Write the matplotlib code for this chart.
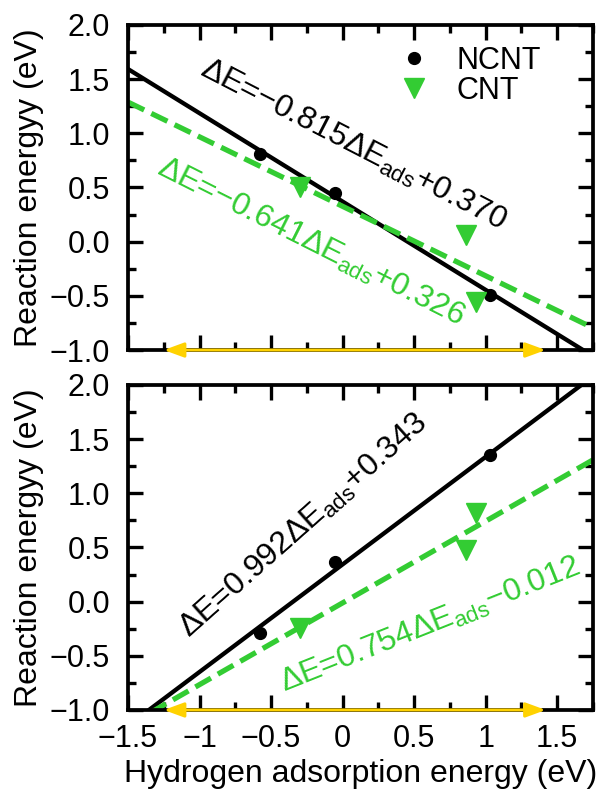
import numpy as np
import matplotlib
matplotlib.use('Agg')
import matplotlib.pyplot as plt
from matplotlib.ticker import MultipleLocator, FixedLocator, FixedFormatter

plt.rcParams['font.family'] = ['Liberation Sans', 'DejaVu Sans']
plt.rcParams['mathtext.fontset'] = 'custom'
plt.rcParams['mathtext.rm'] = 'Liberation Sans'
plt.rcParams['mathtext.it'] = 'Liberation Sans:italic'
plt.rcParams['axes.unicode_minus'] = True

# data
ncnt_x = [-0.575, -0.05, 1.03]
cnt_x = [-0.30, 0.86, 0.935]
# top panel
ncnt_top = [0.81, 0.45, -0.49]
cnt_top = [0.50, 0.06, -0.555]
fit_top_ncnt = (-0.815, 0.370)
fit_top_cnt = (-0.641, 0.326)
# bottom panel
ncnt_bot = [-0.29, 0.366, 1.354]
cnt_bot = [-0.244, 0.48, 0.82]
fit_bot_ncnt = (0.992, 0.343)
fit_bot_cnt = (0.754, -0.012)

xticks = [-1.5, -1, -0.5, 0, 0.5, 1, 1.5]
xticklabels = ['\u22121.5', '\u22121', '\u22120.5', '0', '0.5', '1', '1.5']
yticks = [-1.0, -0.5, 0.0, 0.5, 1.0, 1.5, 2.0]
yticklabels = ['\u22121.0', '\u22120.5', '0.0', '0.5', '1.0', '1.5', '2.0']

green = '#33cc33'
gold = '#ffd200'
fs = 22
fs_ann = 23

fig = plt.figure(figsize=(6.03, 7.93), dpi=100)
ax1 = fig.add_axes([0.2123, 0.5586, 0.771, 0.41])
ax2 = fig.add_axes([0.2123, 0.1047, 0.771, 0.41])

xx = np.linspace(-1.5, 1.75, 200)

def setup(ax):
    ax.set_xlim(-1.5, 1.75)
    ax.set_ylim(-1.0, 2.0)
    ax.xaxis.set_major_locator(FixedLocator(xticks))
    ax.yaxis.set_major_locator(FixedLocator(yticks))
    ax.yaxis.set_major_formatter(FixedFormatter(yticklabels))
    ax.xaxis.set_minor_locator(MultipleLocator(0.25))
    ax.yaxis.set_minor_locator(MultipleLocator(0.25))
    ax.tick_params(which='both', direction='in', top=True, right=True, width=2.4, labelsize=fs)
    ax.tick_params(which='major', length=11)
    ax.tick_params(which='minor', length=6)
    ax.tick_params(axis='y', pad=13)
    for s in ax.spines.values():
        s.set_linewidth(2.7)
    ax.set_ylabel('Reaction energyy (eV)', fontsize=23)
    ax.yaxis.set_label_coords(-0.18, 0.5)
    ax.annotate('', xy=(-1.25, -1.0), xytext=(1.42, -1.0), xycoords='data',
                arrowprops=dict(arrowstyle='<|-|>,head_length=0.6,head_width=0.22',
                                color=gold, lw=2.2, mutation_scale=20,
                                shrinkA=0, shrinkB=0),
                annotation_clip=False, zorder=5)

# top panel
setup(ax1)
ax1.plot(xx, fit_top_ncnt[0] * xx + fit_top_ncnt[1], color='black', lw=3.1)
ax1.plot(xx, fit_top_cnt[0] * xx + fit_top_cnt[1], color=green, lw=3.8, ls=(0, (3.4, 1.5)))
ax1.plot(ncnt_x, ncnt_top, 'o', color='black', ms=8.5, label='NCNT')
ax1.plot(cnt_x, cnt_top, 'v', color=green, ms=14, label='CNT')
ax1.set_xticklabels([])
ax1.legend(loc='upper right', bbox_to_anchor=(0.888, 0.935), frameon=False, fontsize=22,
           borderaxespad=0, borderpad=0, handletextpad=0.9, labelspacing=0.0,
           handlelength=1.0)
ax1.text(-1.01, 1.54, '\u0394E=\u22120.815\u0394E$_{\\mathrm{ads}}$+0.370', fontsize=fs_ann,
         rotation=-27.3, rotation_mode='anchor', ha='left', va='baseline')
ax1.text(-1.31, 0.63, '\u0394E=\u22120.641\u0394E$_{\\mathrm{ads}}$+0.326', fontsize=fs_ann,
         color=green, rotation=-26.7, rotation_mode='anchor', ha='left', va='baseline')

# bottom panel
setup(ax2)
ax2.plot(xx, fit_bot_ncnt[0] * xx + fit_bot_ncnt[1], color='black', lw=3.1)
ax2.plot(xx, fit_bot_cnt[0] * xx + fit_bot_cnt[1], color=green, lw=3.8, ls=(0, (3.4, 1.5)))
ax2.plot(ncnt_x, ncnt_bot, 'o', color='black', ms=8.5)
ax2.plot(cnt_x, cnt_bot, 'v', color=green, ms=14)
ax2.xaxis.set_major_formatter(FixedFormatter(xticklabels))
ax2.tick_params(axis='x', pad=10)
ax2.set_xlabel('Hydrogen adsorption energy (eV)', fontsize=23)
ax2.xaxis.set_label_coords(0.5, -0.15)
ax2.text(-1.07, -0.34, '\u0394E=0.992\u0394E$_{\\mathrm{ads}}$+0.343', fontsize=fs_ann,
         rotation=41.6, rotation_mode='anchor', ha='left', va='baseline')
ax2.text(-0.41, -0.84, '\u0394E=0.754\u0394E$_{\\mathrm{ads}}$\u22120.012', fontsize=fs_ann,
         color=green, rotation=21.7, rotation_mode='anchor', ha='left', va='baseline')

fig.savefig('out.png', dpi=100)
